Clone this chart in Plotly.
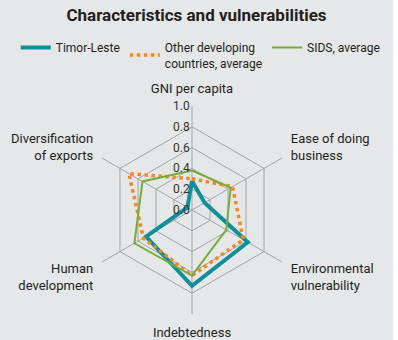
import plotly.graph_objects as go

FONT = "Roboto, Liberation Sans, sans-serif"

categories = [
    "GNI per capita",
    "Ease of doing<br>business",
    "Environmental<br>vulnerability",
    "Indebtedness",
    "Human<br>development",
    "Diversification<br>of exports",
]
timor_leste = [0.28, 0.14, 0.62, 0.73, 0.51, 0.05]
other_developing = [0.30, 0.45, 0.57, 0.63, 0.54, 0.70]
sids_average = [0.38, 0.43, 0.38, 0.63, 0.64, 0.55]

fig = go.Figure()
fig.add_trace(go.Scatterpolar(
    r=timor_leste + timor_leste[:1], theta=categories + categories[:1],
    mode="lines", name="Timor-Leste",
    line=dict(color="#0e8f99", width=4),
))
fig.add_trace(go.Scatterpolar(
    r=other_developing + other_developing[:1], theta=categories + categories[:1],
    mode="lines", name="Other developing<br>countries, average",
    line=dict(color="#f28a22", width=3.5, dash="dot"),
))
fig.add_trace(go.Scatterpolar(
    r=sids_average + sids_average[:1], theta=categories + categories[:1],
    mode="lines", name="SIDS, average",
    line=dict(color="#76ad3a", width=2),
))

fig.update_layout(
    width=393, height=340,
    margin=dict(l=0, r=0, t=0, b=0),
    paper_bgcolor="#e6e7e9",
    font=dict(family=FONT, size=13, color="#231f20"),
    title=dict(text="<b>Characteristics and vulnerabilities</b>", x=0.5, xanchor="center",
               y=0.955, yanchor="middle", font=dict(size=17, color="#231f20")),
    legend=dict(orientation="h", x=0.04, y=0.903, xanchor="left", yanchor="top",
                font=dict(size=12), bgcolor="rgba(0,0,0,0)", itemwidth=30,
                tracegroupgap=0),
    polar=dict(
        domain=dict(x=[0.2239, 0.7532], y=[0.0765, 0.6882]),
        bgcolor="rgba(0,0,0,0)",
        gridshape="linear",
        angularaxis=dict(rotation=90, direction="clockwise", showline=False,
                         gridcolor="#a4a5a7", gridwidth=1,
                         ticks="outside", ticklen=7, tickcolor="rgba(0,0,0,0)",
                         tickfont=dict(size=13)),
        radialaxis=dict(range=[0, 1], dtick=0.2, tickformat=".1f", angle=90,
                        side="counterclockwise", tickangle=90, showline=False,
                        gridcolor="#a4a5a7", gridwidth=1, ticks="",
                        tickfont=dict(size=12, color="#333333")),
    ),
)

# drop the default page margin so the figure sits at the top-left corner
fig.write_html("out.html", config={"displayModeBar": False},
               post_script="document.body.style.margin = '0';")
